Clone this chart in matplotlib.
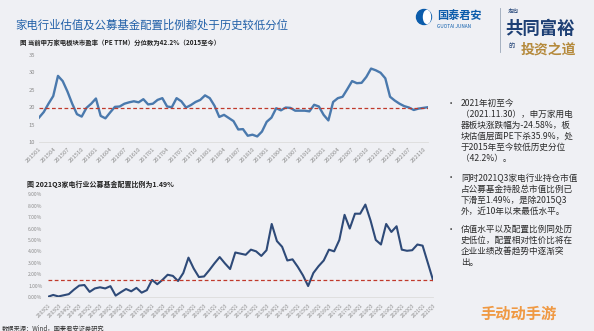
import numpy as np
import matplotlib
matplotlib.use('Agg')
import matplotlib.pyplot as plt
from matplotlib.patches import Circle, Ellipse
from matplotlib.ticker import FuncFormatter

plt.rcParams['font.family'] = ['Noto Sans CJK SC', 'DejaVu Sans']

# 申万家电板块市盈率 (PE TTM)，月度 2015-01 ~ 2021-11
pe_ttm = [17.0, 18.6, 21.0, 23.2, 29.0, 27.5, 24.5, 21.0, 18.0, 17.3,
          19.8, 21.0, 22.5, 17.5, 16.8, 18.5, 20.1, 20.2, 21.0, 21.4,
          21.7, 21.4, 22.3, 20.8, 21.0, 22.1, 22.6, 20.2, 20.0, 22.6,
          21.7, 19.9, 20.6, 21.5, 22.1, 23.4, 22.6, 20.4, 17.2, 17.8,
          16.9, 16.0, 13.6, 13.7, 11.8, 12.1, 11.6, 13.0, 15.8, 17.0,
          19.7, 19.1, 19.9, 19.8, 19.0, 19.0, 19.0, 18.8, 20.7, 20.2,
          17.8, 16.2, 21.5, 22.6, 23.0, 25.2, 27.5, 26.9, 27.0, 28.7,
          31.1, 30.6, 29.9, 28.3, 23.0, 21.9, 21.0, 20.3, 19.9, 19.2,
          19.6, 19.8, 20.0]
pe_line = 19.8  # 2015年以来分位线
month_labels = [f"{y}{m:02d}" for y in range(2015, 2022) for m in (1, 4, 7, 10)]

# 公募基金家电行业配置比例 (%)，季度 2003Q1 ~ 2021Q3
fund_ratio = [0.02, 0.18, 0.05, 0.15, 0.25, 0.65, 1.0, 1.05, 0.45, 0.75,
              0.85, 0.75, 0.95, 0.12, 0.42, 0.7, 0.5, 0.8, 0.38, 0.6,
              1.5, 1.12, 1.5, 1.95, 1.85, 1.4, 2.1, 3.45, 2.5, 1.75,
              1.8, 2.35, 2.95, 3.5, 2.95, 2.45, 3.9, 3.8, 3.7, 4.15,
              4.0, 3.6, 4.1, 6.4, 4.9, 4.4, 3.2, 3.3, 2.65, 1.9,
              0.96, 2.1, 2.7, 3.2, 4.15, 4.0, 5.0, 7.2, 6.0, 7.3,
              7.3, 8.1, 6.7, 5.0, 4.6, 6.4, 5.7, 6.2, 4.15, 4.05,
              4.1, 4.6, 4.5, 3.0, 1.49]
fund_line = 1.49
quarter_labels = [f"{y}Q{q}" for y in range(2003, 2022) for q in (1, 3)]

bullets = [
    ["2021年初至今", "（2021.11.30），申万家用电", "器板块涨跌幅为-24.58%，板",
     "块估值层面PE下杀35.9%，处", "于2015年至今较低历史分位", "（42.2%）。"],
    ["同时2021Q3家电行业持仓市值", "占公募基金持股总市值比例已",
     "下滑至1.49%，是除2015Q3", "外，近10年以来最低水平。"],
    ["估值水平以及配置比例同处历", "史低位，配置相对性价比将在",
     "企业业绩改善趋势中逐渐突", "出。"],
]

W, H = 594, 331
fig = plt.figure(figsize=(W / 100, H / 100), dpi=100, facecolor='#eff0f4')


def fx(px):
    return px / W


def fy(py):
    return 1 - py / H


tick_gray = '#8c8c8c'

# 标题与图注
fig.text(fx(15), fy(25), '家电行业估值及公募基金配置比例都处于历史较低分位',
         fontsize=8.2, color='#2160a8', va='center')
fig.text(fx(20), fy(43), '图 当前申万家电板块市盈率（PE TTM）分位数为42.2%（2015至今）',
         fontsize=4.6, color='#222222', va='center', fontweight='bold')
fig.text(fx(27), fy(184), '图 2021Q3家电行业公募基金配置比例为1.49%',
         fontsize=5.0, color='#222222', va='center', fontweight='bold')
fig.text(fx(2), fy(328), '数据来源：Wind，国泰君安证券研究',
         fontsize=4.5, color='#333333', va='center')

# 上图：市盈率
ax1 = fig.add_axes([fx(39), fy(142), fx(428) - fx(39), fy(55) - fy(142)])
ax1.set_facecolor('none')
m = np.arange(len(pe_ttm))
ax1.plot(m, pe_ttm, color='#4a79ad', lw=1.7, solid_joinstyle='round')
ax1.axhline(pe_line, color='#c0392b', lw=0.9, ls=(0, (3, 2)))
ax1.set_xlim(0, len(pe_ttm) - 1)
ax1.set_ylim(10, 35)
ax1.set_yticks(range(10, 36, 5))
ax1.set_xticks(np.arange(0, len(month_labels) * 3, 3))
ax1.set_xticklabels(month_labels, rotation=45, ha='right', rotation_mode='anchor')
ax1.tick_params(axis='both', length=0, labelsize=4.2, colors=tick_gray)
ax1.tick_params(axis='y', pad=3)
ax1.tick_params(axis='x', pad=3)
for s in ['top', 'right', 'left']:
    ax1.spines[s].set_visible(False)
ax1.spines['bottom'].set_color('#dcdcdc')
ax1.spines['bottom'].set_linewidth(0.6)

# 下图：公募基金配置比例
ax2 = fig.add_axes([fx(48), fy(297), fx(433) - fx(48), fy(194.3) - fy(297)])
ax2.set_facecolor('none')
q = np.arange(len(fund_ratio))
ax2.plot(q, fund_ratio, color='#2e4a78', lw=1.5, solid_joinstyle='round')
ax2.axhline(fund_line, color='#c0392b', lw=0.9, ls=(0, (3, 2)))
ax2.set_xlim(0, len(fund_ratio) - 1)
ax2.set_ylim(0, 9)
ax2.set_yticks(range(0, 10))
ax2.yaxis.set_major_formatter(FuncFormatter(lambda v, _: f"{v:.2f}%"))
ax2.set_xticks(np.arange(0, len(quarter_labels) * 2, 2))
ax2.set_xticklabels(quarter_labels, rotation=45, ha='right', rotation_mode='anchor')
ax2.tick_params(axis='both', length=0, labelsize=3.6, colors=tick_gray)
ax2.tick_params(axis='y', pad=4)
ax2.tick_params(axis='x', pad=4)
for s in ['top', 'right', 'left']:
    ax2.spines[s].set_visible(False)
ax2.spines['bottom'].set_color('#dcdcdc')
ax2.spines['bottom'].set_linewidth(0.6)

# 右侧要点
line_step = 11.2
starts = [103, 178, 229]
for block, y0 in zip(bullets, starts):
    fig.text(fx(447), fy(y0), '•', fontsize=6, color='#333333', va='center')
    for i, line in enumerate(block):
        fig.text(fx(461), fy(y0 + i * line_step), line, fontsize=6.2,
                 color='#2b2b2b', va='center')

# 右上角标识
logo = fig.add_axes([0, 0, 1, 1], facecolor='none')
logo.set_xlim(0, W)
logo.set_ylim(H, 0)
logo.axis('off')
logo.add_patch(Circle((424, 17), 7.5, color='#0b5cab'))
logo.add_patch(Ellipse((427, 17), 7, 13, color='white'))
logo.text(437, 16, '国泰君安', fontsize=8, color='#0b5cab', va='center', fontweight='bold')
logo.text(437, 26, 'GUOTAI JUNAN', fontsize=3.4, color='#0b5cab', va='center')
logo.plot([500, 500], [8, 52], color='#9aa6b8', lw=0.6)
logo.text(508, 11, '走向', fontsize=4, color='#1d3f74', va='center')
logo.text(505, 29, '共同富裕', fontsize=12.5, color='#1d3f74', va='center', fontweight='bold')
logo.text(508, 46, '的', fontsize=4.5, color='#1d3f74', va='center')
logo.text(521, 50, '投资之道', fontsize=10, color='#b58a3c', va='center', fontweight='bold')

# 水印
logo.text(480, 314, '手动动手游', fontsize=11, color='#f08a24', va='center',
          fontweight='bold', alpha=0.85)

fig.savefig('out.png', dpi=100, facecolor=fig.get_facecolor())
